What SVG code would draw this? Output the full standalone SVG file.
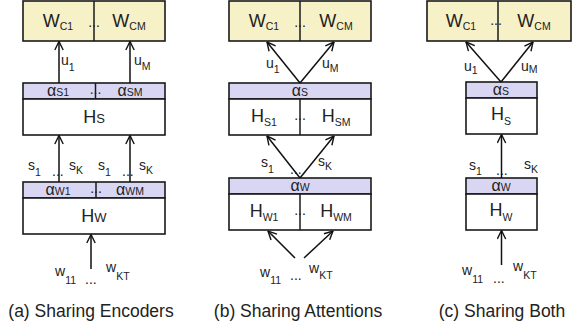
<svg xmlns="http://www.w3.org/2000/svg" width="575" height="329" viewBox="0 0 575 329">
<defs>
<marker id="ah" viewBox="0 0 10 10" refX="9.5" refY="5" markerWidth="10" markerHeight="10" orient="auto" markerUnits="userSpaceOnUse">
<path d="M1,0.8 L9.5,5 L1,9.2" fill="none" stroke="#111" stroke-width="1.4"/>
</marker>
<style>
text{font-family:"Liberation Sans",Arial,Helvetica,sans-serif;fill:#222}
.box{stroke:#1a1a1a;stroke-width:1.6}
.yel{fill:#F7F1C7}
.pur{fill:#D9D6F3}
.wht{fill:#fff}
.div{stroke:#1a1a1a;stroke-width:1.5}
.big{font-size:18px}
.al{font-size:16px}
.sm{font-size:10.5px}
.lab{font-size:14px}
.dots{font-size:14px}
.cap{font-size:17.5px;text-anchor:middle}
.mid{text-anchor:middle}
.conn line{stroke:#111;stroke-width:1.5;marker-end:url(#ah)}
</style>
</defs>
<rect width="575" height="329" fill="#fff"/>

<!-- Panel (a) -->
<g id="a-classifiers">
<rect class="box yel" x="23" y="1" width="142" height="40"/>
<line class="div" x1="94" y1="1" x2="94" y2="41"/>
<text class="big mid" x="58" y="27">W<tspan class="sm" dy="3">C1</tspan></text>
<text class="dots mid" x="94" y="27">...</text>
<text class="big mid" x="129" y="27">W<tspan class="sm" dy="3">CM</tspan></text>
</g>
<g id="a-sent-encoder">
<rect class="box pur" x="23" y="83" width="142" height="16"/>
<rect class="box wht" x="23" y="99" width="142" height="36"/>
<line class="div" x1="95.5" y1="83" x2="95.5" y2="99"/>
<text class="al mid" x="58" y="96">α<tspan class="sm">S1</tspan></text>
<text class="dots mid" x="95.5" y="94">...</text>
<text class="al mid" x="130" y="96">α<tspan class="sm">SM</tspan></text>
<text class="big mid" x="94" y="123">H<tspan font-size="13">S</tspan></text>
</g>
<g id="a-word-encoder">
<rect class="box pur" x="23" y="182" width="142" height="16"/>
<rect class="box wht" x="23" y="198" width="142" height="36"/>
<line class="div" x1="96" y1="182" x2="96" y2="198"/>
<text class="al mid" x="58" y="195">α<tspan class="sm">W1</tspan></text>
<text class="dots mid" x="96" y="193">...</text>
<text class="al mid" x="130" y="195">α<tspan class="sm">WM</tspan></text>
<text class="big mid" x="94" y="222">H<tspan font-size="13">W</tspan></text>
</g>
<g id="a-labels">
<text class="lab" x="61" y="65">u<tspan class="sm" dy="6">1</tspan></text>
<text class="lab" x="134" y="65">u<tspan class="sm" dy="5">M</tspan></text>
<text class="lab" x="28" y="170">s<tspan class="sm" dy="6">1</tspan></text>
<text class="dots" x="52" y="176">...</text>
<text class="lab" x="69" y="170">s<tspan class="sm" dy="4">K</tspan></text>
<text class="lab" x="98" y="170">s<tspan class="sm" dy="6">1</tspan></text>
<text class="dots" x="122" y="176">...</text>
<text class="lab" x="139" y="170">s<tspan class="sm" dy="4">K</tspan></text>
<text class="lab" x="55" y="276">w<tspan class="sm" dy="8">11</tspan></text>
<text class="dots" x="85" y="284">...</text>
<text class="lab" x="106" y="272">w<tspan class="sm" dy="8">KT</tspan></text>
<text class="cap" x="91" y="317">(a) Sharing Encoders</text>
</g>

<!-- Panel (b) -->
<g id="b-classifiers">
<rect class="box yel" x="229" y="1" width="142" height="40"/>
<line class="div" x1="300" y1="1" x2="300" y2="41"/>
<text class="big mid" x="264" y="27">W<tspan class="sm" dy="3">C1</tspan></text>
<text class="dots mid" x="300" y="27">...</text>
<text class="big mid" x="336" y="27">W<tspan class="sm" dy="3">CM</tspan></text>
</g>
<g id="b-sent-encoder">
<rect class="box pur" x="229" y="83" width="142" height="16"/>
<rect class="box wht" x="229" y="99" width="142" height="36"/>
<line class="div" x1="300" y1="99" x2="300" y2="135"/>
<text class="al mid" x="300" y="96">α<tspan class="sm">S</tspan></text>
<text class="big mid" x="264" y="122">H<tspan class="sm" dy="4">S1</tspan></text>
<text class="dots mid" x="300" y="120">...</text>
<text class="big mid" x="336" y="122">H<tspan class="sm" dy="4">SM</tspan></text>
</g>
<g id="b-word-encoder">
<rect class="box pur" x="229" y="178" width="142" height="16"/>
<rect class="box wht" x="229" y="194" width="142" height="36"/>
<line class="div" x1="300" y1="194" x2="300" y2="230"/>
<text class="al mid" x="300" y="191">α<tspan class="sm">W</tspan></text>
<text class="big mid" x="264" y="217">H<tspan class="sm" dy="4">W1</tspan></text>
<text class="dots mid" x="300" y="215">...</text>
<text class="big mid" x="336" y="217">H<tspan class="sm" dy="4">WM</tspan></text>
</g>
<g id="b-labels">
<text class="lab" x="266" y="68">u<tspan class="sm" dy="5">1</tspan></text>
<text class="lab" x="322" y="68">u<tspan class="sm" dy="4">M</tspan></text>
<text class="lab" x="261" y="167">s<tspan class="sm" dy="6">1</tspan></text>
<text class="dots" x="290" y="174">...</text>
<text class="lab" x="318" y="166">s<tspan class="sm" dy="4">K</tspan></text>
<text class="lab" x="260" y="277">w<tspan class="sm" dy="7">11</tspan></text>
<text class="dots" x="290" y="280">...</text>
<text class="lab" x="309" y="273">w<tspan class="sm" dy="6">KT</tspan></text>
<text class="cap" x="298" y="317">(b) Sharing Attentions</text>
</g>

<!-- Panel (c) -->
<g id="c-classifiers">
<rect class="box yel" x="427" y="1" width="144" height="40"/>
<line class="div" x1="498" y1="1" x2="498" y2="41"/>
<text class="big mid" x="461" y="27">W<tspan class="sm" dy="3">C1</tspan></text>
<text class="dots mid" x="496" y="25">...</text>
<text class="big mid" x="534" y="27">W<tspan class="sm" dy="3">CM</tspan></text>
</g>
<g id="c-sent-encoder">
<rect class="box pur" x="466" y="82" width="71" height="16"/>
<rect class="box wht" x="466" y="98" width="71" height="36"/>
<text class="al mid" x="501" y="95">α<tspan class="sm">S</tspan></text>
<text class="big mid" x="501" y="120">H<tspan class="sm" dy="5">S</tspan></text>
</g>
<g id="c-word-encoder">
<rect class="box pur" x="466" y="178" width="71" height="16"/>
<rect class="box wht" x="466" y="194" width="71" height="36"/>
<text class="al mid" x="501" y="191">α<tspan class="sm">W</tspan></text>
<text class="big mid" x="501" y="216">H<tspan class="sm" dy="5">W</tspan></text>
</g>
<g id="c-labels">
<text class="lab" x="464" y="71">u<tspan class="sm" dy="3">1</tspan></text>
<text class="lab" x="521" y="71">u<tspan class="sm" dy="2">M</tspan></text>
<text class="lab" x="469" y="170">s<tspan class="sm" dy="5">1</tspan></text>
<text class="dots" x="496" y="175">...</text>
<text class="lab" x="524" y="169">s<tspan class="sm" dy="4">K</tspan></text>
<text class="lab" x="462" y="275">w<tspan class="sm" dy="8">11</tspan></text>
<text class="dots" x="493" y="283">...</text>
<text class="lab" x="513" y="271">w<tspan class="sm" dy="8">KT</tspan></text>
<text class="cap" x="502" y="317">(c) Sharing Both</text>
</g>

<g id="connectors" class="conn">
<line x1="59" y1="83" x2="59" y2="41.5"/>
<line x1="130" y1="83" x2="130" y2="41.5"/>
<line x1="59" y1="182" x2="59" y2="135.5"/>
<line x1="130" y1="182" x2="130" y2="135.5"/>
<line x1="91" y1="269" x2="91" y2="234.5"/>
<line x1="300" y1="83" x2="267" y2="42"/>
<line x1="300" y1="83" x2="334" y2="42"/>
<line x1="300" y1="178" x2="267" y2="136"/>
<line x1="300" y1="178" x2="334" y2="136"/>
<line x1="295" y1="258" x2="268" y2="231"/>
<line x1="304" y1="258" x2="333" y2="231"/>
<line x1="501" y1="82" x2="466" y2="42"/>
<line x1="501" y1="82" x2="533" y2="42"/>
<line x1="501.5" y1="178" x2="501.5" y2="134.5"/>
<line x1="501.5" y1="265" x2="501.5" y2="230.5"/>
</g>
</svg>
